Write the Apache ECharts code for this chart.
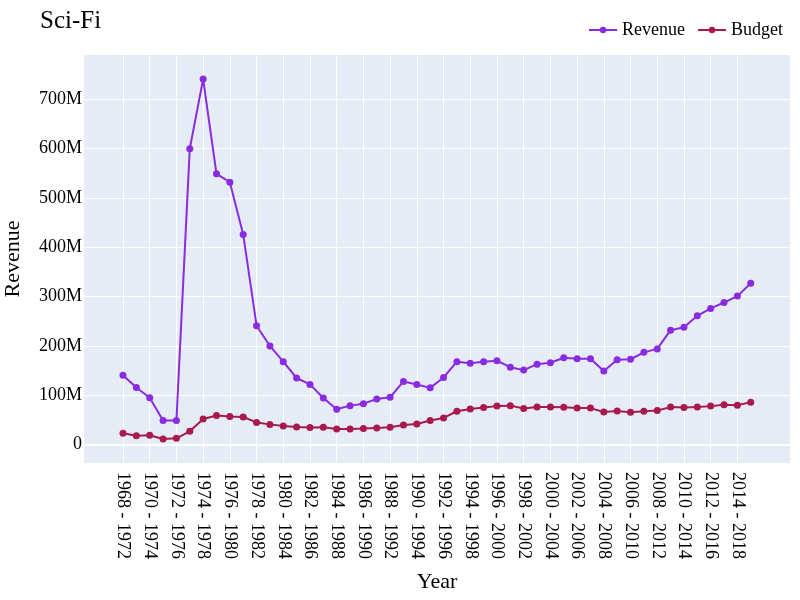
<!DOCTYPE html>
<html lang="en" style="height: 100%;margin: 0;background-color: #fff;">
<head>
    <meta charset="UTF-8">
    <title>Sci-Fi</title>
</head>
<body style="height: 100%;margin: 0;background-color: #fff;">
<div id="chart" style="width: 800px;height: 600px;margin: 0;"></div>
<script src="https://cdn.jsdelivr.net/npm/echarts@6/dist/echarts.min.js"></script>
<script>
    var categories = [];
    for (var y = 1968; y <= 2015; y++) {
        categories.push(y + " - " + (y + 4));
    }
    // values in millions
    var revenue = [140.6, 115.6, 95, 48.7, 48.7, 600, 741, 549, 532, 426,
        241, 200, 168, 135, 122, 94.6, 71.6, 79, 83, 92.5,
        96, 128, 122, 115, 136, 168, 165, 168, 170, 157,
        151, 163, 166, 176, 174, 174, 149, 172, 173, 187,
        194, 232, 238, 261, 276, 288, 301, 327];
    var budget = [22.9, 18, 19, 11.4, 12.8, 27, 52, 59, 57, 56,
        45, 41, 37.7, 35.7, 34.5, 35, 31.7, 31.7, 32.4, 33.7,
        35, 39.8, 41.8, 48.7, 54, 67.6, 72, 75, 78, 79,
        73, 76, 76, 75.7, 74, 74, 66, 68, 65.5, 67.6,
        69, 76, 75, 76, 78, 81, 80, 86];
    var xTickIndex = [];
    for (var i = 0; i < categories.length; i += 2) {
        xTickIndex.push(i);
    }
    var yTicks = [0, 100, 200, 300, 400, 500, 600, 700];

    var font = "'Liberation Serif', 'Times New Roman', serif";
    var myChart = echarts.init(document.getElementById("chart"), null, {renderer: 'canvas'});

    function toPairs(arr) {
        var out = [];
        for (var k = 0; k < arr.length; k++) {
            out.push([k, arr[k] * 1e6]);
        }
        return out;
    }

    var option = {
        backgroundColor: '#fff',
        animation: false,
        textStyle: {fontFamily: font},
        title: {
            text: 'Sci-Fi',
            left: 35,
            top: 4,
            textStyle: {fontFamily: font, fontSize: 25, fontWeight: 'normal', color: '#000'}
        },
        legend: {
            right: 12,
            top: 16,
            itemWidth: 28,
            itemHeight: 8,
            itemGap: 12,
            textStyle: {fontFamily: font, fontSize: 18, color: '#000'},
            data: ['Revenue', 'Budget']
        },
        grid: {
            left: 84,
            right: 10,
            top: 55,
            bottom: 137,
            show: true,
            backgroundColor: '#e5ecf6',
            borderWidth: 0,
            containLabel: false,
            outerBoundsMode: 'none'
        },
        xAxis: {
            type: 'value',
            min: -2.92,
            max: 49.94,
            name: 'Year',
            nameLocation: 'middle',
            nameGap: 108,
            nameTextStyle: {fontFamily: font, fontSize: 22, color: '#000'},
            axisLine: {show: false},
            axisTick: {show: false, customValues: xTickIndex},
            axisLabel: {
                customValues: xTickIndex,
                rotate: -90,
                margin: 9,
                fontFamily: font,
                fontSize: 18,
                color: '#000',
                formatter: function (v) {
                    return categories[Math.round(v)] || '';
                }
            },
            splitLine: {show: true, lineStyle: {color: '#fff', width: 1}}
        },
        yAxis: {
            type: 'value',
            min: -37.3e6,
            max: 789.8e6,
            name: 'Revenue',
            nameLocation: 'middle',
            nameGap: 60,
            nameTextStyle: {fontFamily: font, fontSize: 22, color: '#000'},
            axisLine: {show: false},
            axisTick: {show: false, customValues: yTicks.map(function (v) { return v * 1e6; })},
            axisLabel: {
                customValues: yTicks.map(function (v) { return v * 1e6; }),
                margin: 2,
                padding: [4, 0, 0, 0],
                fontFamily: font,
                fontSize: 18,
                color: '#000',
                formatter: function (v) {
                    return v === 0 ? '0' : Math.round(v / 1e6) + 'M';
                }
            },
            splitLine: {show: true, lineStyle: {color: '#fff', width: 1}}
        },
        series: [{
            name: 'Revenue',
            type: 'line',
            data: toPairs(revenue),
            symbol: 'circle',
            symbolSize: 7,
            itemStyle: {color: '#8a2be2'},
            lineStyle: {color: '#8a2be2', width: 2},
            markLine: {
                silent: true,
                symbol: 'none',
                label: {show: false},
                lineStyle: {color: '#fff', width: 2, type: 'solid'},
                data: [{yAxis: 0}]
            }
        }, {
            name: 'Budget',
            type: 'line',
            data: toPairs(budget),
            symbol: 'circle',
            symbolSize: 7,
            itemStyle: {color: '#a8194c'},
            lineStyle: {color: '#a8194c', width: 2}
        }]
    };
    myChart.setOption(option, true);
</script>
</body>
</html>
